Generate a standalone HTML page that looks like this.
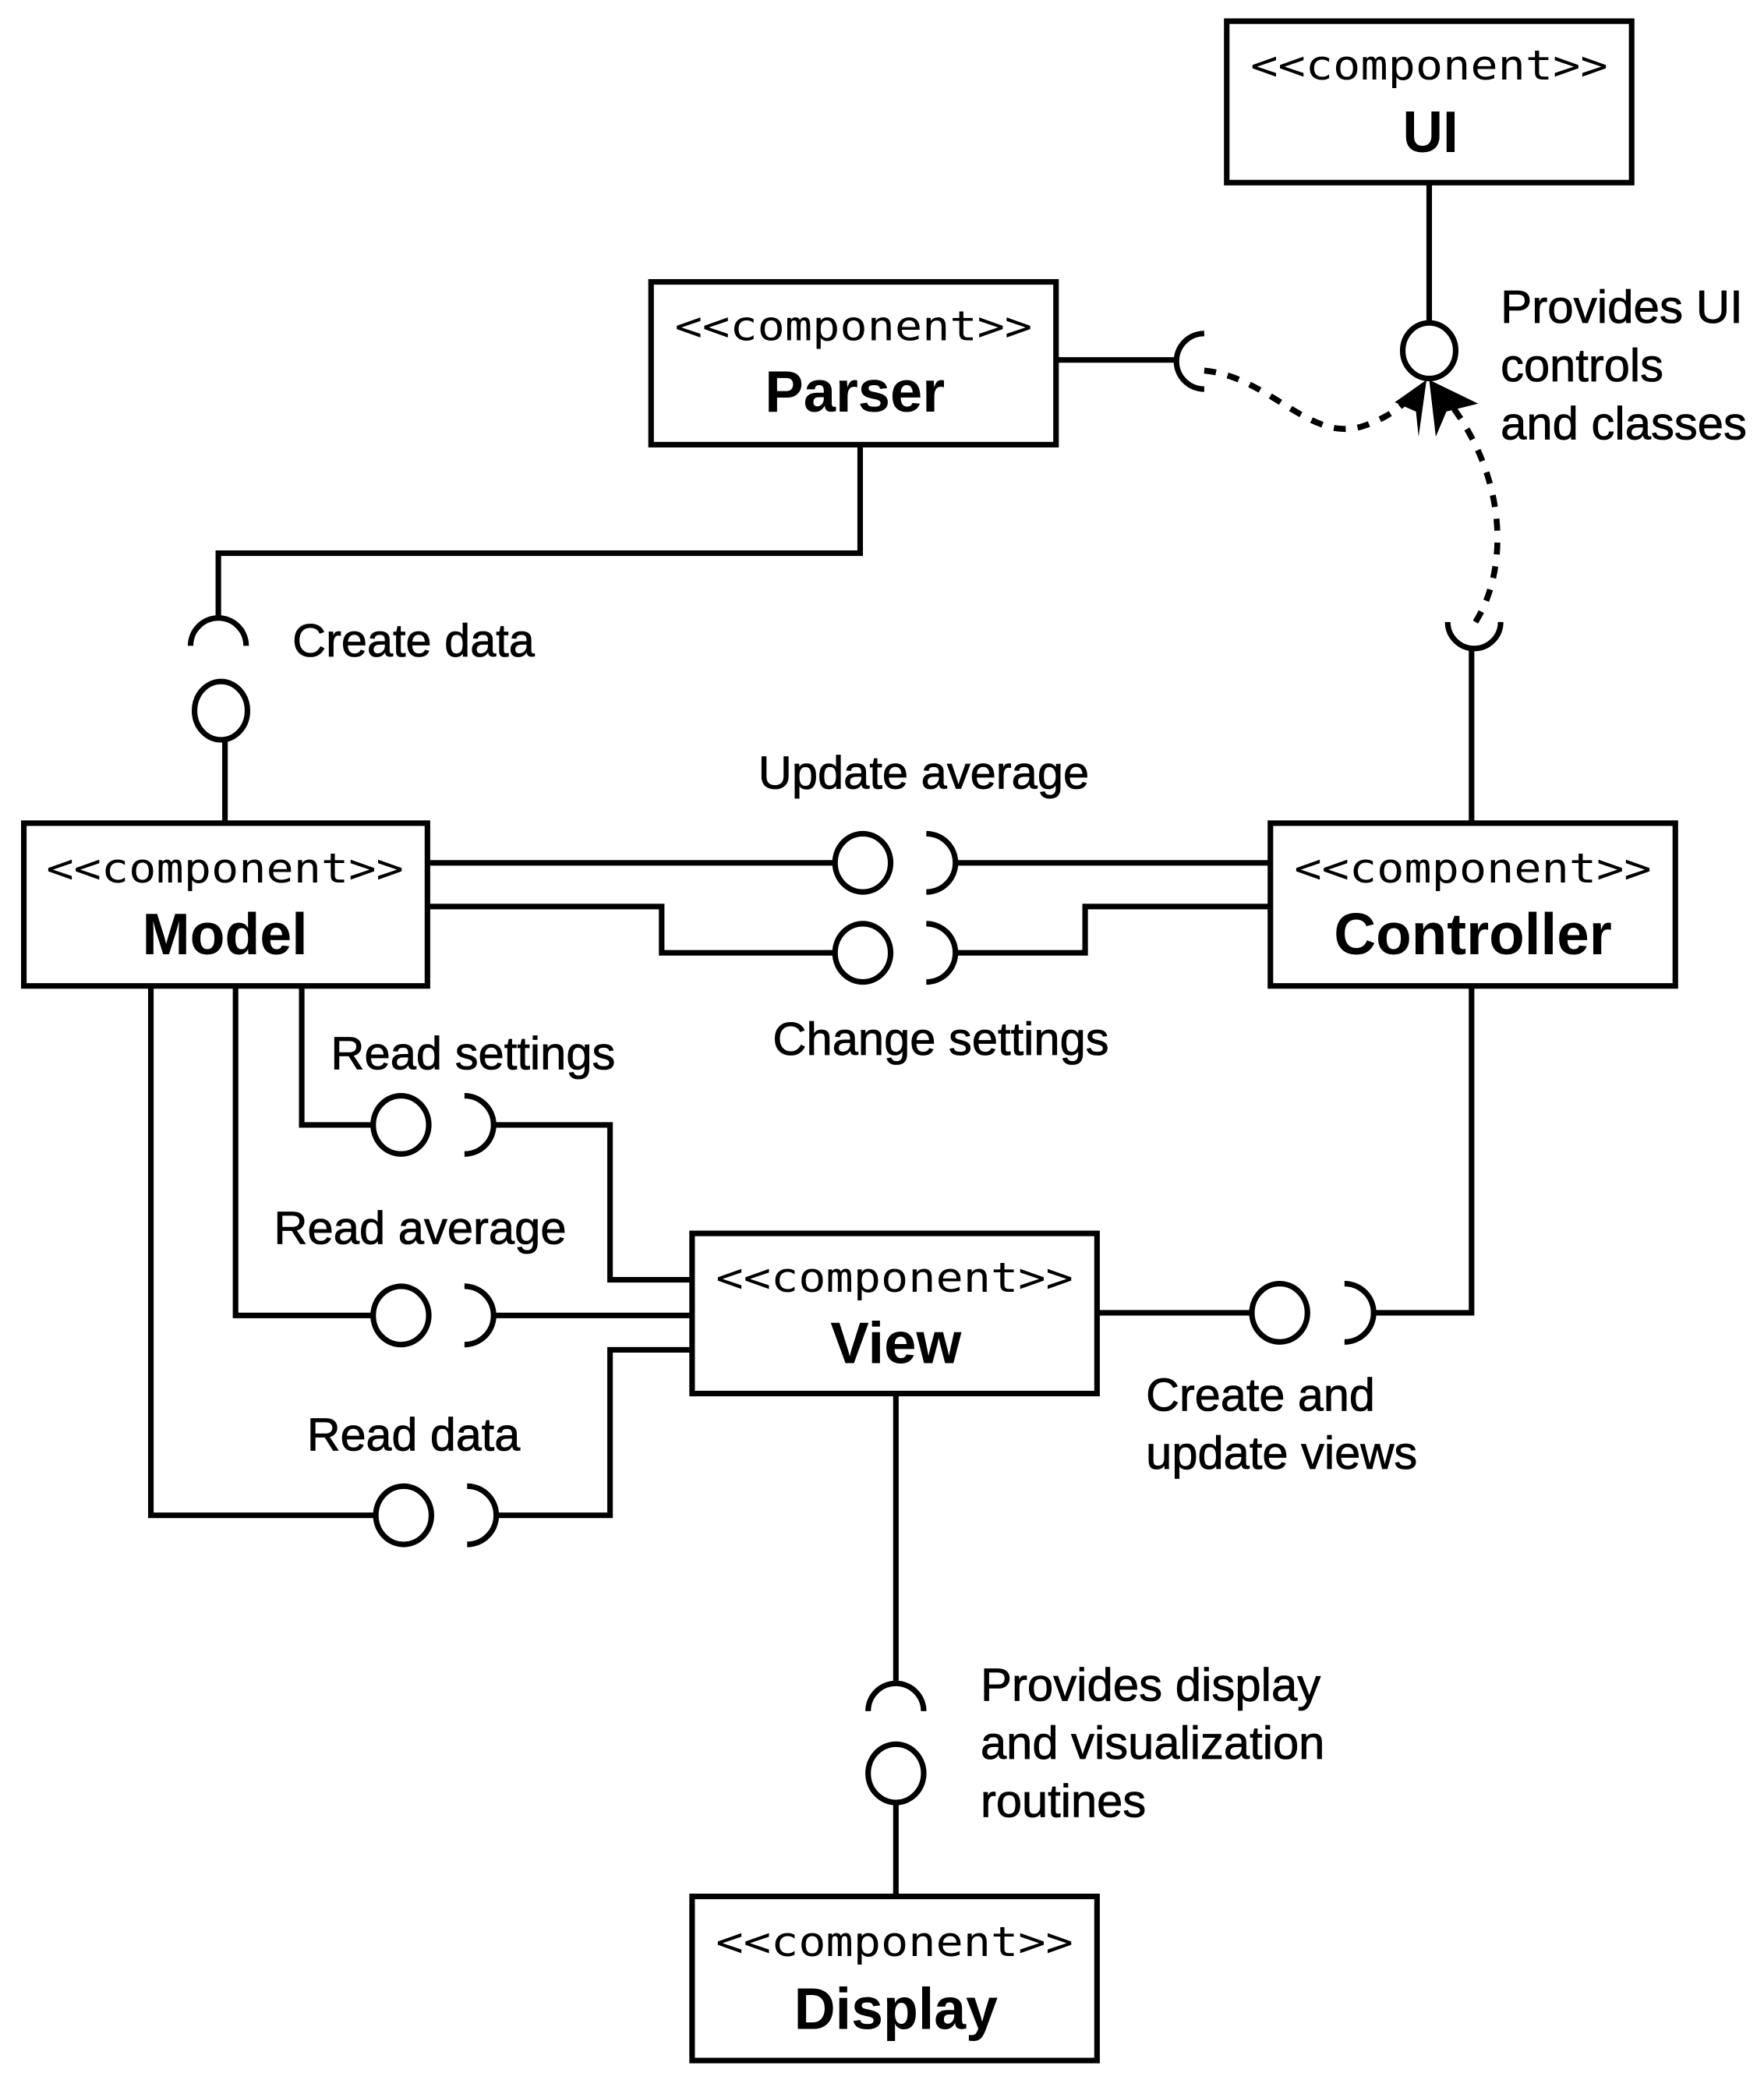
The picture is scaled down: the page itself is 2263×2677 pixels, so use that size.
<!DOCTYPE html>
<html><head><meta charset="utf-8"><style>html,body{margin:0;padding:0;background:#fff}svg{display:block}</style></head>
<body>
<svg width="2263" height="2677" viewBox="0 0 1333 1577" preserveAspectRatio="none" xmlns="http://www.w3.org/2000/svg">
<g fill="none" stroke="#000" stroke-width="4.2">
<rect x="927" y="16" width="306" height="122"/>
<rect x="492" y="213" width="306" height="123"/>
<rect x="18" y="622" width="305" height="123"/>
<rect x="960" y="622" width="306" height="123"/>
<rect x="523" y="932" width="306" height="121"/>
<rect x="523" y="1433" width="306" height="124"/>
<path d="M1080 138 V244"/>
<ellipse cx="1080" cy="265" rx="20" ry="21"/>
<path d="M798 272 H888"/>
<path d="M910 252 A20 20 0 0 0 910 294"/>
<path d="M1094 470 A20 20 0 0 0 1134 470"/>
<path d="M1112 490 V622"/>
<path d="M650 336 V418 H165 V465"/>
<path d="M144 488 A21 21 0 0 1 186 488"/>
<ellipse cx="167" cy="537" rx="20" ry="22"/>
<path d="M170 559 V622"/>
<path d="M323 652 H631"/>
<ellipse cx="652" cy="652" rx="21" ry="22"/>
<path d="M700 630 A22 22 0 0 1 700 674"/>
<path d="M722 652 H960"/>
<path d="M323 685 H500 V720 H631"/>
<ellipse cx="652" cy="720" rx="21" ry="22"/>
<path d="M700 698 A22 22 0 0 1 700 742"/>
<path d="M722 720 H820 V685 H960"/>
<path d="M228 745 V850 H282"/>
<ellipse cx="303" cy="850" rx="21" ry="22"/>
<path d="M351 828 A22 22 0 0 1 351 872"/>
<path d="M373 850 H461 V967 H523"/>
<path d="M178 745 V994 H282"/>
<ellipse cx="303" cy="994" rx="21" ry="22"/>
<path d="M351 972 A22 22 0 0 1 351 1016"/>
<path d="M373 994 H523"/>
<path d="M114 745 V1145 H284"/>
<ellipse cx="305" cy="1145" rx="21" ry="22"/>
<path d="M353 1123 A22 22 0 0 1 353 1167"/>
<path d="M375 1145 H461 V1020 H523"/>
<path d="M829 992 H946"/>
<ellipse cx="967" cy="992" rx="21" ry="22"/>
<path d="M1016 970 A22 22 0 0 1 1016 1014"/>
<path d="M1038 992 H1112 V745"/>
<path d="M677 1053 V1270"/>
<path d="M656 1293 A21 21 0 0 1 698 1293"/>
<ellipse cx="677" cy="1340" rx="21" ry="22"/>
<path d="M677 1362 V1433"/>
<path d="M910 280 C960 285 990 335 1030 322 C1048 316 1058 308 1066 300" stroke-dasharray="9 9" stroke-width="4.5"/>
<path d="M1115 470 C1140 430 1140 360 1092 300" stroke-dasharray="9 9" stroke-width="4.5"/>
</g>
<g fill="#000">
<path d="M1078 287 L1054 304 L1070 311 L1072 330 Z"/>
<path d="M1080 287 L1085 330 L1093 311 L1117 305 Z"/>
</g>
<g font-family="'DejaVu Sans Mono', monospace" font-size="31" text-anchor="middle">
<text x="1080" y="60" textLength="270" lengthAdjust="spacingAndGlyphs">&lt;&lt;component&gt;&gt;</text>
<text x="645" y="257" textLength="270" lengthAdjust="spacingAndGlyphs">&lt;&lt;component&gt;&gt;</text>
<text x="170" y="667" textLength="270" lengthAdjust="spacingAndGlyphs">&lt;&lt;component&gt;&gt;</text>
<text x="1113" y="667" textLength="270" lengthAdjust="spacingAndGlyphs">&lt;&lt;component&gt;&gt;</text>
<text x="676" y="976" textLength="270" lengthAdjust="spacingAndGlyphs">&lt;&lt;component&gt;&gt;</text>
<text x="676" y="1478" textLength="270" lengthAdjust="spacingAndGlyphs">&lt;&lt;component&gt;&gt;</text>
</g>
<g font-family="'Liberation Sans', sans-serif" font-size="44" font-weight="bold" text-anchor="middle">
<text x="1081" y="115" textLength="42" lengthAdjust="spacingAndGlyphs">UI</text>
<text x="646" y="311" textLength="136" lengthAdjust="spacingAndGlyphs">Parser</text>
<text x="170" y="721" textLength="125" lengthAdjust="spacingAndGlyphs">Model</text>
<text x="1113" y="721" textLength="210" lengthAdjust="spacingAndGlyphs">Controller</text>
<text x="677" y="1030" textLength="99" lengthAdjust="spacingAndGlyphs">View</text>
<text x="677" y="1533" textLength="154" lengthAdjust="spacingAndGlyphs">Display</text>
</g>
<g font-family="'Liberation Sans', sans-serif" font-size="35" stroke="#000" stroke-width="0.5">
<text x="1134" y="244" textLength="183" lengthAdjust="spacingAndGlyphs">Provides UI</text>
<text x="1134" y="288" textLength="123" lengthAdjust="spacingAndGlyphs">controls</text>
<text x="1134" y="332" textLength="186" lengthAdjust="spacingAndGlyphs">and classes</text>
<text x="221" y="496" textLength="183" lengthAdjust="spacingAndGlyphs">Create data</text>
<text x="573" y="596" textLength="250" lengthAdjust="spacingAndGlyphs">Update average</text>
<text x="584" y="797" textLength="254" lengthAdjust="spacingAndGlyphs">Change settings</text>
<text x="250" y="808" textLength="215" lengthAdjust="spacingAndGlyphs">Read settings</text>
<text x="207" y="940" textLength="221" lengthAdjust="spacingAndGlyphs">Read average</text>
<text x="232" y="1096" textLength="161" lengthAdjust="spacingAndGlyphs">Read data</text>
<text x="866" y="1066" textLength="173" lengthAdjust="spacingAndGlyphs">Create and</text>
<text x="866" y="1110" textLength="205" lengthAdjust="spacingAndGlyphs">update views</text>
<text x="741" y="1285" textLength="257" lengthAdjust="spacingAndGlyphs">Provides display</text>
<text x="741" y="1329" textLength="260" lengthAdjust="spacingAndGlyphs">and visualization</text>
<text x="741" y="1373" textLength="125" lengthAdjust="spacingAndGlyphs">routines</text>
</g>
</svg>
</body></html>
